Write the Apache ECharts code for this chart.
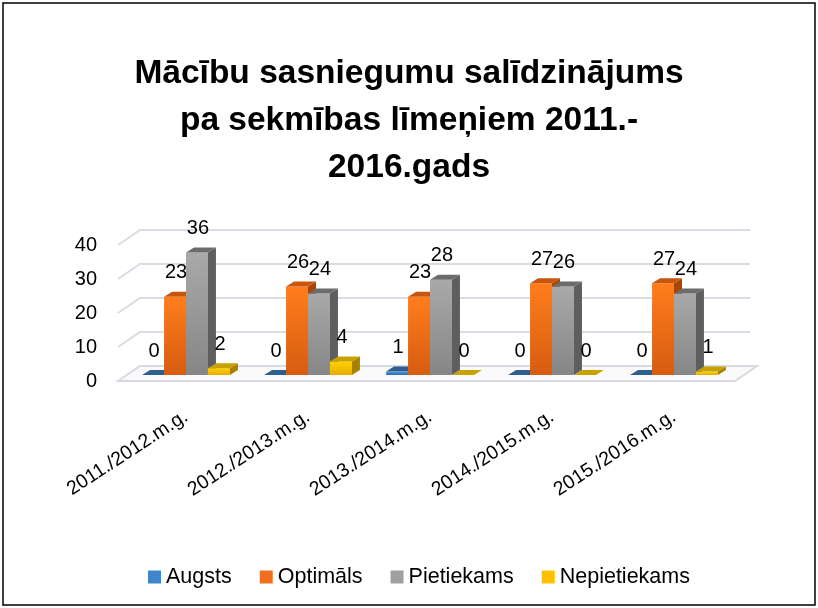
<!DOCTYPE html>
<html>

<head>
    <meta charset="UTF-8">
    <title>Mācību sasniegumu salīdzinājums</title>
    <script src="https://cdn.jsdelivr.net/npm/echarts@6/dist/echarts.min.js"></script>
    <style>
        body { margin: 0; background: #fff; }
    </style>
</head>

<body>
    <div id="main" style="width: 818px; height: 608px;"></div>
    <script>
        // data
        const categories = ['2011./2012.m.g.', '2012./2013.m.g.', '2013./2014.m.g.', '2014./2015.m.g.', '2015./2016.m.g.'];
        const seriesNames = ['Augsts', 'Optimāls', 'Pietiekams', 'Nepietiekams'];
        const augsts = [0, 0, 1, 0, 0];
        const optimals = [23, 26, 23, 27, 27];
        const pietiekams = [36, 24, 28, 26, 24];
        const nepietiekams = [2, 4, 0, 0, 1];
        const yTicks = [0, 10, 20, 30, 40];

        const allValues = [augsts, optimals, pietiekams, nepietiekams];

        // colours of the faces: front gradient (top, bottom), side, top
        const palette = [
            { main: '#3F86CC', front: ['#4A94DC', '#2F6EAE'], side: '#24548A', top: '#2E5E8E' },
            { main: '#F07020', front: ['#FF7D1C', '#D65C10'], side: '#A84608', top: '#C9560C' },
            { main: '#A0A0A0', front: ['#A9A9A9', '#868686'], side: '#5E5E5E', top: '#6C6C6C' },
            { main: '#FFC000', front: ['#FFD200', '#E6AC00'], side: '#A68000', top: '#C8A000' }
        ];

        const FONT = '"Liberation Sans", Arial, sans-serif';
        const DX = 8, DY = -5;       // bar depth
        const WX = 22, WY = -15;     // wall depth
        const SHIFT_Y = -6;          // bars sit a bit behind the front edge

        function barRenderer(s) {
            return function (params, api) {
                const ci = api.value(0);
                const v = api.value(1);
                const base = api.coord([ci, 0]);
                const tp = api.coord([ci, v]);
                const w = api.size([1, 0])[0] * 0.18;
                const x0 = base[0] + (s - 2) * w;
                const x1 = x0 + w;
                const yb = base[1] + SHIFT_Y;
                const yt = tp[1] + SHIFT_Y;
                const c = palette[s];
                const children = [];
                if (yb - yt > 0.5) {
                    children.push({
                        type: 'rect',
                        shape: { x: x0, y: yt, width: w, height: yb - yt },
                        style: {
                            fill: new echarts.graphic.LinearGradient(0, 0, 0, 1, [
                                { offset: 0, color: c.front[0] },
                                { offset: 1, color: c.front[1] }
                            ])
                        }
                    });
                    children.push({
                        type: 'polygon',
                        shape: { points: [[x1, yb], [x1 + DX, yb + DY], [x1 + DX, yt + DY], [x1, yt]] },
                        style: { fill: c.side }
                    });
                }
                children.push({
                    type: 'polygon',
                    shape: { points: [[x0, yt], [x1, yt], [x1 + DX, yt + DY], [x0 + DX, yt + DY]] },
                    style: { fill: c.top }
                });
                children.push({
                    type: 'text',
                    style: {
                        text: String(v),
                        x: x0 + w / 2 + 1,
                        y: yt - 24,
                        align: 'center',
                        verticalAlign: 'middle',
                        font: '20px ' + FONT,
                        fill: '#000'
                    }
                });
                return { type: 'group', children: children };
            };
        }

        function wallRenderer(params, api) {
            const cs = params.coordSys;
            const v = api.value(1);
            const y = api.coord([0, v])[1];
            const xl = cs.x - 7;
            const xr = cs.x + cs.width;
            const children = [];
            if (v === 0) {
                children.push({
                    type: 'polygon',
                    shape: { points: [[xl, y], [xr, y], [xr + WX, y + WY], [xl + WX, y + WY]] },
                    style: { fill: '#FAFAFB', stroke: '#D6DAE2', lineWidth: 2 }
                });
            } else {
                children.push({
                    type: 'polyline',
                    shape: { points: [[xl, y], [xl + WX, y + WY], [xr + WX - 7, y + WY]] },
                    style: { fill: null, stroke: '#D9DCE3', lineWidth: 2 }
                });
            }
            return { type: 'group', children: children };
        }

        const series = [{
            name: 'wall',
            type: 'custom',
            renderItem: wallRenderer,
            data: yTicks.map(v => [0, v]),
            silent: true,
            z: 1
        }];
        seriesNames.forEach((name, s) => {
            series.push({
                name: name,
                type: 'custom',
                renderItem: barRenderer(s),
                data: allValues[s].map((v, i) => [i, v]),
                itemStyle: { color: palette[s].main },
                z: 2
            });
        });

        const option = {
            animation: false,
            backgroundColor: '#fff',
            title: {
                text: 'Mācību sasniegumu salīdzinājums\npa sekmības līmeņiem 2011.-\n2016.gads',
                left: 'center',
                top: 50,
                padding: 0,
                textStyle: {
                    fontFamily: FONT,
                    fontSize: 33.5,
                    fontWeight: 'bold',
                    lineHeight: 47,
                    color: '#000'
                }
            },
            legend: {
                data: seriesNames,
                left: 143,
                top: 561,
                icon: 'rect',
                itemWidth: 13,
                itemHeight: 13,
                itemGap: 28,
                textStyle: { fontFamily: FONT, fontSize: 21.5, color: '#000' }
            },
            grid: {
                left: 125,
                right: 83,
                top: 245,
                bottom: 227
            },
            xAxis: {
                type: 'category',
                data: categories,
                axisLine: { show: false },
                axisTick: { show: false },
                axisLabel: {
                    rotate: 33,
                    margin: 34,
                    fontFamily: FONT,
                    fontSize: 19.5,
                    color: '#000'
                }
            },
            yAxis: {
                type: 'value',
                min: 0,
                max: 40,
                interval: 10,
                axisLine: { show: false },
                axisTick: { show: false },
                splitLine: { show: false },
                axisLabel: {
                    margin: 28,
                    fontFamily: FONT,
                    fontSize: 20,
                    color: '#000'
                }
            },
            graphic: [{
                type: 'rect',
                shape: { x: 3, y: 3, width: 812, height: 602 },
                style: { fill: null, stroke: '#000', lineWidth: 1.5 },
                silent: true
            }],
            series: series
        };

        const myChart = echarts.init(document.getElementById('main'));
        myChart.setOption(option);

        window.addEventListener('resize', function () {
            myChart.resize();
        });
    </script>
</body>

</html>
